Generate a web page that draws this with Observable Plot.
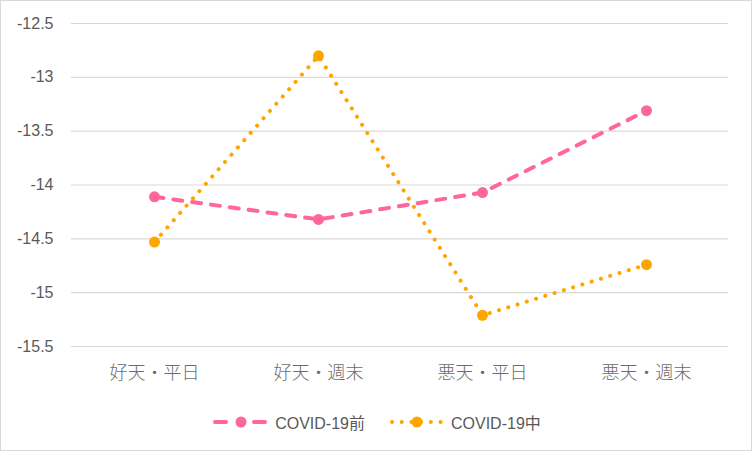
<!DOCTYPE html>
<html>
<head>
<meta charset="utf-8">
<script src="https://cdn.jsdelivr.net/npm/d3@7"></script>
<script src="https://cdn.jsdelivr.net/npm/@observablehq/plot@0.6"></script>
<style>
  body { margin: 0; background: #fff; }
  #frame { width: 752px; height: 451px; box-sizing: border-box; border: 1px solid #d9d9d9; background: #fff; overflow: hidden; }
  #legend { height: 54px; display: flex; justify-content: center; align-items: flex-start; gap: 24px; font-family: "Liberation Sans", "Noto Sans CJK JP", sans-serif; font-size: 16px; color: #595959; padding-top: 14px; padding-left: 2px; box-sizing: border-box; }
  .item { display: flex; align-items: center; gap: 6px; }
  .item svg { display: block; }
</style>
</head>
<body>
<div id="frame"><div id="chart"></div><div id="legend"></div></div>
<script>
const categories = ["好天・平日", "好天・週末", "悪天・平日", "悪天・週末"];
const beforeValues = [-14.11, -14.32, -14.07, -13.31];
const duringValues = [-14.53, -12.80, -15.21, -14.74];
const yTicks = [-15.5, -15, -14.5, -14, -13.5, -13, -12.5];
const seriesNames = ["COVID-19前", "COVID-19中"];
const colors = ["#FF6699", "#FFA500"];
const dashes = ["9,10", "0.1,9.6"];

const beforeData = categories.map((c, i) => ({ cat: c, v: beforeValues[i] }));
const duringData = categories.map((c, i) => ({ cat: c, v: duringValues[i] }));

const fontFam = '"Liberation Sans", "Noto Sans CJK JP", sans-serif';

const plot = Plot.plot({
  width: 750,
  height: 395,
  marginLeft: 70,
  marginRight: 23,
  marginTop: 22,
  marginBottom: 50,
  style: { fontFamily: fontFam, fontSize: "16px", color: "#595959", background: "#fff" },
  x: { type: "point", domain: categories, padding: 0.5, label: null },
  y: { domain: [-15.5, -12.5], ticks: yTicks, label: null, tickFormat: d => String(d) },
  marks: [
    Plot.gridY(yTicks, { stroke: "#d9d9d9", strokeOpacity: 1, strokeWidth: 1.2 }),
    Plot.axisY({ ticks: yTicks, tickSize: 0, tickPadding: 18, tickFormat: d => String(d), fill: "#595959", fontSize: 16, label: null }),
    Plot.axisX({ tickSize: 0, tickPadding: 20, fill: "#6b6b6b", fontSize: 18, fontWeight: 300, label: null }),
    Plot.line(beforeData, { x: "cat", y: "v", stroke: colors[0], strokeWidth: 4, strokeDasharray: dashes[0], strokeLinecap: "round", strokeLinejoin: "round" }),
    Plot.line(duringData, { x: "cat", y: "v", stroke: colors[1], strokeWidth: 4, strokeDasharray: dashes[1], strokeLinecap: "round", strokeLinejoin: "round" }),
    Plot.dot(beforeData, { x: "cat", y: "v", r: 5.5, fill: colors[0], stroke: "none" }),
    Plot.dot(duringData, { x: "cat", y: "v", r: 5.5, fill: colors[1], stroke: "none" })
  ]
});
document.getElementById("chart").appendChild(plot);

const legend = document.getElementById("legend");
seriesNames.forEach((name, i) => {
  const item = document.createElement("div");
  item.className = "item";
  item.innerHTML = `<svg width="56" height="14"><line x1="2" y1="7" x2="54" y2="7" stroke="${colors[i]}" stroke-width="4" stroke-linecap="round" stroke-dasharray="${i === 0 ? '11,28' : '0.1,9.6'}" ${i===1?'stroke-dashoffset="-1"':''}/><circle cx="28" cy="7" r="5.5" fill="${colors[i]}"/></svg><span>${name}</span>`;
  legend.appendChild(item);
});
</script>
</body>
</html>
